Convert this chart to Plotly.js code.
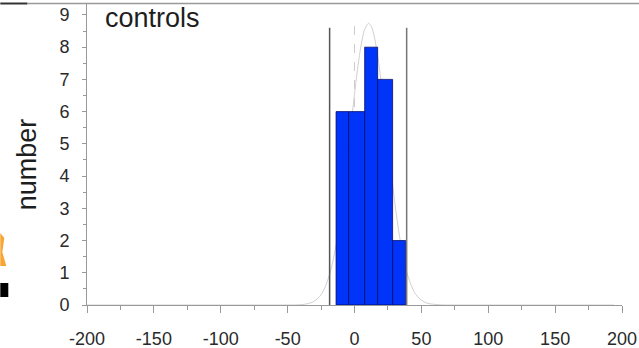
<!DOCTYPE html>
<html>
<head>
<meta charset="utf-8">
<script src="https://cdn.plot.ly/plotly-3.0.1.min.js"></script>
<style>html,body{margin:0;padding:0;background:#fff;}#chart{width:639px;height:348px;}</style>
</head>
<body>
<div id="chart"></div>
<script>
// Histogram bins (edges) and counts
const binEdges = [-13.8, -4.4, 7.6, 17.3, 28.5, 38.2];
const counts = [6, 6, 8, 7, 2];

// Fitted curve (light grey)
const curveX = [-200, -100, -60, -45, -40, -35, -30, -25, -22, -18, -14, -10, -5, 0, 2.5, 5, 7.5, 10.5, 12.5, 15, 17.5, 20, 22.5, 25, 27.5, 30, 32.5, 35, 37.5, 40, 45, 50, 55, 65, 80, 120, 194];
const curveY = [0, 0, 0, 0.003, 0.01, 0.04, 0.12, 0.32, 0.55, 1.04, 1.81, 2.90, 4.65, 6.54, 7.39, 8.07, 8.54, 8.74, 8.65, 8.29, 7.68, 6.90, 5.99, 5.03, 4.09, 3.22, 2.45, 1.81, 1.29, 0.89, 0.38, 0.15, 0.05, 0.004, 0, 0, 0];

// Limit lines (dark) and the zero reference (dashed)
const limitX = [-18.6, 39.0];
const limitTop = 8.6;
const refX = 0;
const refTop = 8.82;

const xTicks = [-200, -150, -100, -50, 0, 50, 100, 150, 200];
const yTicks = [0, 1, 2, 3, 4, 5, 6, 7, 8, 9];
const titleText = "controls";
const yLabel = "number";

const mids = [], widths = [];
for (let i = 0; i < counts.length; i++) {
  mids.push((binEdges[i] + binEdges[i + 1]) / 2);
  widths.push(binEdges[i + 1] - binEdges[i]);
}

const traces = [
  {type: 'scatter', mode: 'lines', x: [refX, refX], y: [0, refTop],
   line: {color: '#cccccc', width: 1, dash: 'dash'}, hoverinfo: 'skip'},
  {type: 'scatter', mode: 'lines', x: curveX, y: curveY,
   line: {color: '#d0d0d0', width: 1, shape: 'spline', smoothing: 0.8}, hoverinfo: 'skip'},
  {type: 'bar', x: mids, y: counts, width: widths, xaxis: 'x2', yaxis: 'y2',
   marker: {color: '#0034f8', line: {color: 'rgba(0,10,100,0.75)', width: 1}}},
  {type: 'scatter', mode: 'lines', x: [limitX[0], limitX[0]], y: [0, limitTop], xaxis: 'x2', yaxis: 'y2',
   line: {color: '#555', width: 1.5}, hoverinfo: 'skip'},
  {type: 'scatter', mode: 'lines', x: [limitX[1], limitX[1]], y: [0, limitTop], xaxis: 'x2', yaxis: 'y2',
   line: {color: '#777', width: 1.5}, hoverinfo: 'skip'}
];

const plotL = 86.7, plotR = 621.7, plotT = 3, plotB = 305;
const pw = plotR - plotL, ph = plotB - plotT;
const px = v => (v - plotL) / pw;
const py = v => (plotB - v) / ph;

const xRange = [-200, 200], yRange = [0, 9.37];

const axisCommon = {
  showgrid: false, zeroline: false, showline: true, linecolor: '#999', linewidth: 1,
  ticks: 'outside', tickcolor: '#999', tickwidth: 1,
  tickfont: {family: 'Liberation Sans, Arial, sans-serif', size: 18, color: '#2a2a2a'}
};

const layout = {
  width: 639, height: 348, autosize: false,
  margin: {l: plotL, r: 639 - plotR, t: plotT, b: 348 - plotB, pad: 0},
  paper_bgcolor: '#fff', plot_bgcolor: '#fff',
  showlegend: false, bargap: 0,
  xaxis: Object.assign({}, axisCommon, {
    range: xRange, tickvals: xTicks, ticktext: xTicks.map(String), ticklen: 7, ticklabelstandoff: 10,
    minor: {dtick: 25, ticklen: 4, ticks: 'outside', tickcolor: '#999', tick0: 0}
  }),
  yaxis: Object.assign({}, axisCommon, {
    range: yRange, tickvals: yTicks, ticktext: yTicks.map(String), ticklen: 4, ticklabelstandoff: 9,
    minor: {dtick: 0.5, ticklen: 3, ticks: 'outside', tickcolor: '#999', tick0: 0}
  }),
  xaxis2: {overlaying: 'x', range: xRange, visible: false, showgrid: false, zeroline: false},
  yaxis2: {overlaying: 'y', range: yRange, visible: false, showgrid: false, zeroline: false},
  annotations: [
    {text: titleText, xref: 'paper', yref: 'paper', x: px(103), y: py(1), xanchor: 'left', yanchor: 'top',
     showarrow: false, font: {family: 'Liberation Sans, Arial, sans-serif', size: 27, color: '#1e1e1e'}},
    {text: yLabel, xref: 'paper', yref: 'paper', x: px(27), y: py(164), xanchor: 'center', yanchor: 'middle',
     textangle: -90, showarrow: false, font: {family: 'Liberation Sans, Arial, sans-serif', size: 27, color: '#1e1e1e'}}
  ],
  shapes: [
    {type: 'line', xref: 'paper', yref: 'paper', x0: px(27), x1: px(639), y0: py(3.5), y1: py(3.5),
     line: {color: '#999', width: 1.5}},
    {type: 'line', xref: 'paper', yref: 'paper', x0: px(0), x1: px(27), y0: py(3.5), y1: py(3.5),
     line: {color: '#333', width: 2}},
    {type: 'rect', xref: 'paper', yref: 'paper', x0: px(0), x1: px(8), y0: py(297), y1: py(283),
     fillcolor: '#000', line: {width: 0}},
    {type: 'path', xref: 'paper', yref: 'paper',
     path: 'M ' + px(0) + ' ' + py(233) + ' L ' + px(4) + ' ' + py(238) + ' L ' + px(2) + ' ' + py(252) +
           ' L ' + px(6) + ' ' + py(266) + ' L ' + px(0) + ' ' + py(266) + ' Z',
     fillcolor: '#f7a533', line: {width: 0}}
  ]
};

Plotly.newPlot('chart', traces, layout, {staticPlot: true, displayModeBar: false});
</script>
</body>
</html>
